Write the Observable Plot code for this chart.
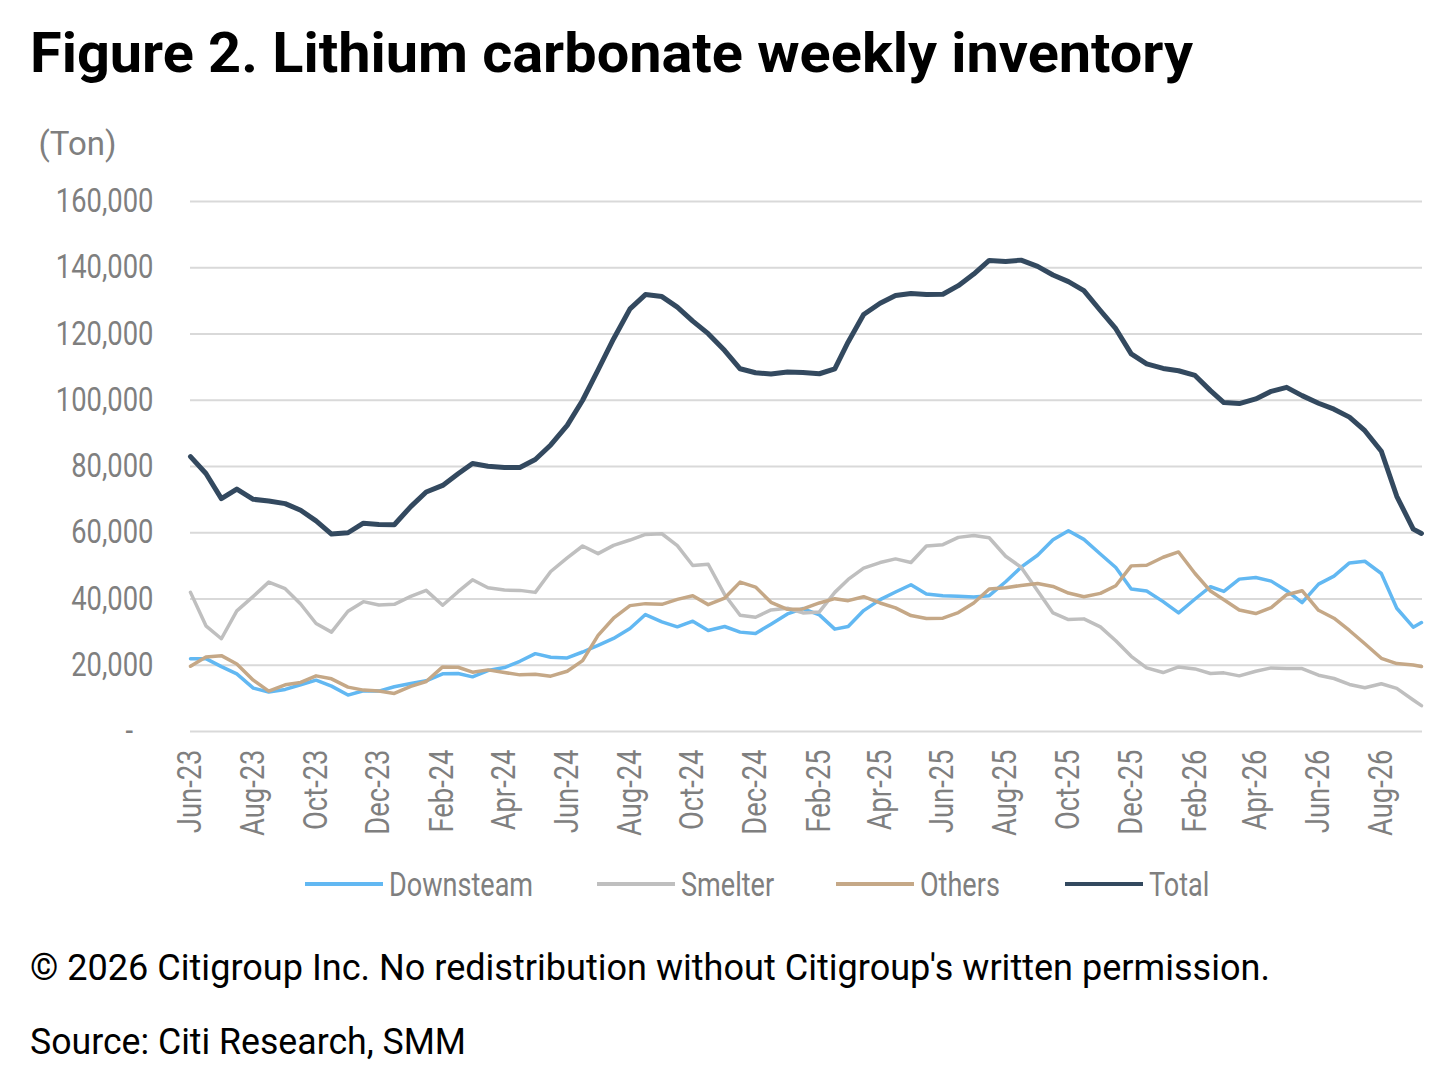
<!DOCTYPE html>
<html><head><meta charset="utf-8">
<script src="https://cdn.jsdelivr.net/npm/d3@7"></script>
<script src="https://cdn.jsdelivr.net/npm/@observablehq/plot@0.6"></script>
<style>
body{margin:0;background:#fff;}
#wrap{position:relative;width:1440px;height:1076px;overflow:hidden;background:#fff;}
.fit{position:absolute;white-space:nowrap;transform-origin:0 50%;}
#title{left:30px;top:18px;font:700 56px Roboto,"Open Sans",sans-serif;color:#000;line-height:70px;}
#chart{position:absolute;left:0;top:100px;}
#cap1{left:30px;top:944px;font:400 37px Roboto,sans-serif;color:#000;line-height:48px;}
#cap2{left:30px;top:1018px;font:400 37px Roboto,sans-serif;color:#000;line-height:48px;}
.leg{position:absolute;top:864px;height:40px;display:flex;align-items:center;font:33px Roboto,sans-serif;color:#7f7f7f;white-space:nowrap;}
.leg span{display:inline-block;transform:scaleX(0.82);transform-origin:0 50%;}
.sw{width:78px;height:4px;margin-right:6px;}
</style></head>
<body>
<div id="wrap">
  <div id="title" class="fit">Figure 2. Lithium carbonate weekly inventory</div>
  <div id="chart"></div>
  <div id="legend"></div>
  <div id="cap1" class="fit">© 2026 Citigroup Inc. No redistribution without Citigroup's written permission.</div>
  <div id="cap2" class="fit">Source: Citi Research, SMM</div>
</div>
<script>
// ---- Data (thousand tons, half-monthly) ----
const dates = [
"2023-06-01","2023-06-16","2023-07-01","2023-07-16","2023-08-01","2023-08-16","2023-09-01","2023-09-16",
"2023-10-01","2023-10-16","2023-11-01","2023-11-16","2023-12-01","2023-12-16","2024-01-01","2024-01-16",
"2024-02-01","2024-02-16","2024-03-01","2024-03-16","2024-04-01","2024-04-16","2024-05-01","2024-05-16",
"2024-06-01","2024-06-16","2024-07-01","2024-07-16","2024-08-01","2024-08-16","2024-09-01","2024-09-16",
"2024-10-01","2024-10-16","2024-11-01","2024-11-16","2024-12-01","2024-12-16","2025-01-01","2025-01-16",
"2025-02-01","2025-02-16","2025-03-01","2025-03-16","2025-04-01","2025-04-16","2025-05-01","2025-05-16",
"2025-06-01","2025-06-16","2025-07-01","2025-07-16","2025-08-01","2025-08-16","2025-09-01","2025-09-16",
"2025-10-01","2025-10-16","2025-11-01","2025-11-16","2025-12-01","2025-12-16","2026-01-01","2026-01-16",
"2026-02-01","2026-02-16","2026-03-01","2026-03-16","2026-04-01","2026-04-16","2026-05-01","2026-05-16",
"2026-06-01","2026-06-16","2026-07-01","2026-07-16","2026-08-01","2026-08-16","2026-09-01","2026-09-09"];

const downstream = [22.0,22.0,19.6,17.4,13.1,11.9,12.7,14.1,15.5,13.7,11.0,12.3,12.2,13.5,14.5,15.3,
17.4,17.5,16.5,18.4,19.3,21.2,23.5,22.4,22.2,24.0,26.0,28.1,31.1,35.3,33.1,31.6,
33.3,30.5,31.7,30.0,29.6,32.4,35.5,37.1,35.2,30.9,31.7,36.5,39.8,42.1,44.3,41.5,
41.0,40.8,40.6,41.0,45.2,49.6,53.2,57.9,60.6,58.0,53.6,49.5,43.0,42.4,39.2,35.8,
40.0,43.7,42.3,46.0,46.5,45.4,42.5,38.9,44.5,46.9,50.9,51.4,47.7,37.2,31.5,32.9];

const smelter = [42.0,31.9,28.0,36.4,40.8,45.1,43.1,38.5,32.6,30.0,36.3,39.2,38.2,38.4,40.8,42.6,
38.1,42.2,45.8,43.4,42.7,42.6,42.0,48.3,52.4,56.0,53.7,56.2,57.8,59.5,59.7,56.1,
50.1,50.5,41.3,35.1,34.5,36.7,37.2,35.8,36.1,42.0,45.9,49.3,51.0,52.1,51.0,56.0,
56.4,58.6,59.2,58.5,52.9,49.6,42.5,35.8,33.8,34.0,31.6,27.4,22.7,19.2,17.8,19.5,
18.9,17.5,17.7,16.8,18.2,19.2,19.0,19.0,17.0,16.0,14.2,13.2,14.4,13.0,9.5,7.8];

const others = [19.7,22.5,22.9,20.4,15.5,12.2,14.1,14.8,16.8,15.9,13.4,12.5,12.2,11.5,13.6,15.1,
19.5,19.4,17.9,18.6,17.8,17.1,17.3,16.7,18.2,21.4,29.0,34.2,38.0,38.6,38.4,39.9,
41.0,38.3,40.3,45.1,43.6,39.0,36.9,37.0,38.8,40.1,39.5,40.7,38.8,37.3,35.0,34.1,
34.2,35.9,38.8,43.0,43.4,44.1,44.7,43.8,41.8,40.7,41.7,44.0,50.0,50.2,52.6,54.2,
47.7,42.4,39.8,36.7,35.6,37.4,41.3,42.5,36.6,34.2,30.5,26.5,22.1,20.5,20.1,19.6];

const total = [83.0,77.9,70.3,73.2,70.1,69.6,68.8,66.8,63.6,59.6,60.0,62.9,62.5,62.4,67.9,72.3,
74.3,77.8,80.9,80.1,79.7,79.7,82.1,86.5,92.4,100.0,109.2,118.5,127.6,131.9,131.3,128.1,
123.9,120.1,115.0,109.5,108.3,107.9,108.5,108.4,108.0,109.5,117.6,125.9,129.3,131.6,132.2,131.9,
132.0,134.6,138.1,142.2,141.9,142.3,140.4,137.8,135.8,133.1,127.1,121.6,114.0,111.0,109.6,108.9,
107.5,102.9,99.3,99.0,100.4,102.7,103.9,101.4,99.1,97.3,94.9,90.8,84.6,71.0,61.1,59.8];

const seriesNames = ["Downsteam","Smelter","Others","Total"];
const seriesColors = ["#62b8f2","#bfbfbf","#c5a887","#33495f"];
const seriesWidths = [3.5,3.5,3.5,5];
const yTicks = [0,20000,40000,60000,80000,100000,120000,140000,160000];
const xTickLabels = ["Jun-23","Aug-23","Oct-23","Dec-23","Feb-24","Apr-24","Jun-24","Aug-24","Oct-24","Dec-24",
"Feb-25","Apr-25","Jun-25","Aug-25","Oct-25","Dec-25","Feb-26","Apr-26","Jun-26","Aug-26"];
const yUnit = "(Ton)";

// ---- Build table ----
const seriesValues = [downstream, smelter, others, total];
const parseDate = d3.utcParse("%Y-%m-%d");
const rows = [];
seriesNames.forEach((name, i) => {
  seriesValues[i].forEach((v, j) => rows.push({series: name, date: parseDate(dates[j]), value: v * 1000}));
});
const xTicks = xTickLabels.map(d3.utcParse("%b-%y"));

const chart = Plot.plot({
  width: 1440, height: 760,
  marginLeft: 190, marginRight: 18, marginTop: 101, marginBottom: 129,
  x: {type: "utc", domain: [parseDate("2023-06-01"), parseDate("2026-09-10")]},
  y: {domain: [0, 160000]},
  style: {fontFamily: "Roboto, sans-serif", fontSize: "33px", color: "#7f7f7f", background: "transparent", overflow: "visible"},
  marks: [
    Plot.ruleY(yTicks, {stroke: "#d9d9d9", strokeWidth: 2.2}),
    Plot.axisY({ticks: yTicks, tickSize: 0, tickPadding: 37, label: null,
      tickFormat: d => d === 0 ? "-\u00a0\u00a0\u00a0" : d3.format(",")(d)}),
    Plot.axisX({ticks: xTicks, tickSize: 0, tickRotate: -90, tickPadding: 18, label: null,
      tickFormat: d3.utcFormat("%b-%y")}),
    ...seriesNames.map((name, i) => Plot.lineY(rows.filter(r => r.series === name), {
      x: "date", y: "value", stroke: seriesColors[i], strokeWidth: seriesWidths[i],
      curve: "linear", strokeLinejoin: "round", strokeLinecap: "round"})),
    Plot.text([yUnit], {frameAnchor: "top-left", dx: -152, dy: -70, textAnchor: "start", fontSize: 33, fill: "#7f7f7f"})
  ]
});
// condense axis tick labels along their reading direction (reference uses a narrow face)
chart.querySelectorAll('g[aria-label="y-axis tick label"] text, g[aria-label="x-axis tick label"] text').forEach(t => {
  const tr = t.getAttribute("transform") || "";
  t.setAttribute("transform", tr + " scale(0.83,1)");
});
document.getElementById("chart").appendChild(chart);

// ---- Legend ----
const legLefts = [305, 597, 836, 1065];
const legend = document.getElementById("legend");
seriesNames.forEach((name, i) => {
  const item = document.createElement("div");
  item.className = "leg";
  item.style.left = legLefts[i] + "px";
  item.innerHTML = `<div class="sw" style="background:${seriesColors[i]}"></div><span>${name}</span>`;
  legend.appendChild(item);
});

// ---- fit texts to reference widths ----
function fit(id, w) {
  const el = document.getElementById(id);
  const nat = el.getBoundingClientRect().width;
  el.style.transform = `scaleX(${w / nat})`;
}
document.fonts.ready.then(() => {
  fit("title", 1163);
  fit("cap1", 1240);
  fit("cap2", 436);
});
</script>
</body></html>
